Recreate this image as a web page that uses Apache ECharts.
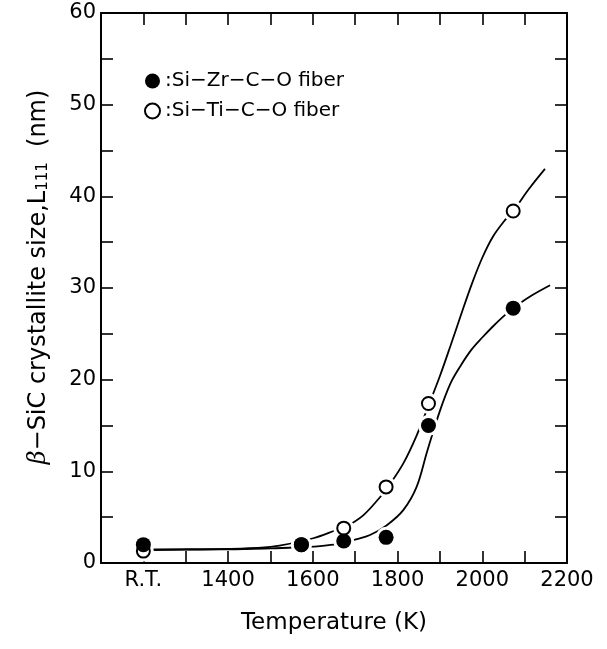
<!DOCTYPE html>
<html>
<head>
<meta charset="utf-8">
<script src="https://cdn.jsdelivr.net/npm/echarts@6/dist/echarts.min.js"></script>
<style>
  html, body { margin: 0; padding: 0; background: #fff; }
  #chart { width: 607px; height: 649px; }
</style>
</head>
<body>
<div id="chart"></div>
<script>
// measured points (temperature K, crystallite size nm); R.T. sits at the 1200 slot
const tempK = [1200, 1573, 1673, 1773, 1873, 2073];
const zrSize = [2.0, 2.0, 2.4, 2.8, 15.0, 27.8];
const tiSize = [1.3, 2.0, 3.8, 8.3, 17.4, 38.4];

// hand-drawn guide curves
const zrCurveT = [1200, 1300, 1400, 1500, 1577, 1617, 1656, 1704, 1735, 1774, 1814, 1845, 1870, 1900, 1925, 1950, 1975, 2000, 2025, 2050, 2073, 2110, 2160];
const zrCurveV = [1.45, 1.5, 1.5, 1.6, 1.75, 1.85, 2.05, 2.6, 3.05, 4.1, 5.8, 8.3, 12.2, 16.6, 19.6, 21.6, 23.3, 24.6, 25.8, 26.9, 27.8, 29.0, 30.3];
const tiCurveT = [1200, 1300, 1400, 1500, 1601, 1656, 1676, 1719, 1759, 1776, 1814, 1845, 1875, 1900, 1925, 1950, 1975, 2000, 2025, 2050, 2073, 2110, 2148];
const tiCurveV = [1.4, 1.45, 1.55, 1.75, 2.7, 3.6, 3.9, 5.2, 7.2, 8.2, 10.9, 13.9, 17.4, 20.4, 23.7, 27.1, 30.4, 33.3, 35.6, 37.2, 38.4, 40.8, 43.0];

// tick labels
const xTickValues = [1200, 1400, 1600, 1800, 2000, 2200];
const xTickText = ['R.T.', '1400', '1600', '1800', '2000', '2200'];
const yTickValues = [0, 10, 20, 30, 40, 50, 60];

const zrName = 'Si\u2212Zr\u2212C\u2212O fiber';
const tiName = 'Si\u2212Ti\u2212C\u2212O fiber';

const pairs = (xs, ys) => xs.map((x, i) => [x, ys[i]]);

const font = 'DejaVu Sans';

const baseAxis = {
    axisLine: { show: true, onZero: false, lineStyle: { color: '#000', width: 2 } },
    axisTick: { show: true, inside: true, length: 12, lineStyle: { color: '#000', width: 1.6 } },
    splitLine: { show: false }
};

const chart = echarts.init(document.getElementById('chart'));

chart.setOption({
    animation: false,
    backgroundColor: '#fff',
    grid: { left: 101, right: 40, top: 13, bottom: 86 },
    legend: {
        data: [zrName, tiName],
        orient: 'vertical',
        left: 144,
        top: 70,
        padding: 0,
        itemWidth: 15,
        itemHeight: 15,
        itemGap: 8,
        itemTextGap: 3,
        icon: 'circle',
        formatter: ':{name}',
        textStyle: { fontFamily: font, fontSize: 20, lineHeight: 22, color: '#000' }
    },
    xAxis: [
        Object.assign({}, baseAxis, {
            type: 'value', min: 1100, max: 2200, interval: 100, position: 'bottom',
            axisLabel: {
                color: '#000', fontFamily: font, fontSize: 21, margin: 7,
                formatter: v => { const i = xTickValues.indexOf(v); return i < 0 ? '' : xTickText[i]; }
            },
            name: 'Temperature (K)', nameLocation: 'middle', nameGap: 49,
            nameTextStyle: { color: '#000', fontFamily: font, fontSize: 23 }
        }),
        Object.assign({}, baseAxis, {
            type: 'value', min: 1100, max: 2200, interval: 100, position: 'top',
            axisLabel: { show: false }
        })
    ],
    yAxis: [
        Object.assign({}, baseAxis, {
            type: 'value', min: 0, max: 60, interval: 5, position: 'left',
            axisLabel: {
                color: '#000', fontFamily: font, fontSize: 21, margin: 5,
                formatter: v => yTickValues.indexOf(v) < 0 ? '' : String(v)
            },
            name: '{b|\u03b2}{t|\u2212SiC crystallite size,L}{s|111}{t|  (nm)}',
            nameLocation: 'middle', nameRotate: 90, nameGap: 50,
            nameTextStyle: {
                color: '#000',
                padding: [0, 0, 0, 22],
                rich: {
                    b: { fontFamily: 'DejaVu Serif', fontStyle: 'italic', fontSize: 24, color: '#000' },
                    t: { fontFamily: font, fontSize: 24, color: '#000' },
                    s: { fontFamily: font, fontSize: 15, color: '#000', verticalAlign: 'bottom', padding: [10, 0, 0, 0] }
                }
            }
        }),
        Object.assign({}, baseAxis, {
            type: 'value', min: 0, max: 60, interval: 5, position: 'right',
            axisLabel: { show: false }
        })
    ],
    series: [
        {
            name: 'zrCurve', type: 'line', smooth: 0.35, showSymbol: false, silent: true, z: 2,
            lineStyle: { color: '#000', width: 1.8 },
            data: pairs(zrCurveT, zrCurveV)
        },
        {
            name: 'tiCurve', type: 'line', smooth: 0.35, showSymbol: false, silent: true, z: 2,
            lineStyle: { color: '#000', width: 1.8 },
            data: pairs(tiCurveT, tiCurveV)
        },
        {
            // white halos so the curves break round the markers
            name: 'halo', type: 'scatter', symbolSize: 21, silent: true, z: 3,
            itemStyle: { color: '#fff', opacity: 1 },
            data: pairs(tempK, zrSize).concat(pairs(tempK, tiSize))
        },
        {
            name: tiName, type: 'scatter', symbol: 'circle', symbolSize: 13, z: 4,
            itemStyle: { color: '#fff', borderColor: '#000', borderWidth: 2, opacity: 1 },
            data: pairs(tempK, tiSize)
        },
        {
            name: zrName, type: 'scatter', symbol: 'circle', symbolSize: 15, z: 5,
            itemStyle: { color: '#000', opacity: 1 },
            data: pairs(tempK, zrSize)
        }
    ]
});
</script>
</body>
</html>
